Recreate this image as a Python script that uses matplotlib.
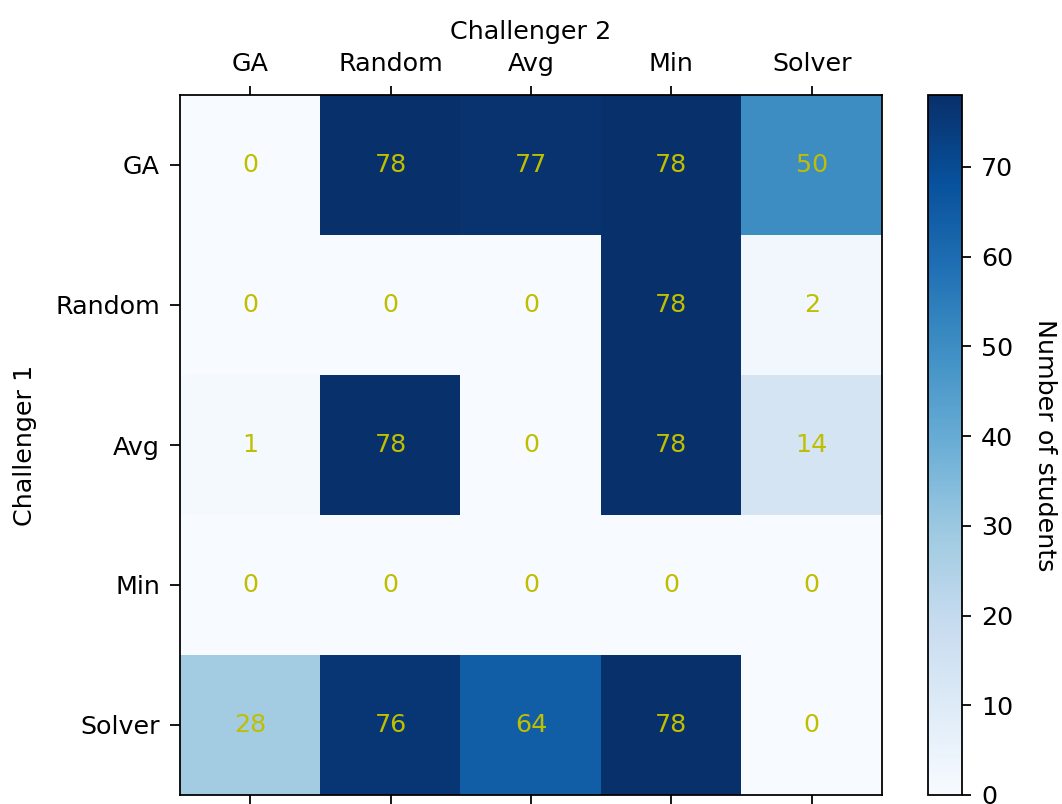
import matplotlib
matplotlib.use("Agg")
import matplotlib.pyplot as plt
import numpy as np

strategies = ["GA", "Random", "Avg", "Min", "Solver"]
row_ga = [0, 78, 77, 78, 50]
row_random = [0, 0, 0, 78, 2]
row_avg = [1, 78, 0, 78, 14]
row_min = [0, 0, 0, 0, 0]
row_solver = [28, 76, 64, 78, 0]

wins = np.array([row_ga, row_random, row_avg, row_min, row_solver])

plt.rcParams["font.size"] = 11.4

fig = plt.figure(figsize=(1062 / 160, 804 / 160), dpi=160)
ax = fig.add_axes([180 / 1062, 1 - 795 / 804, 702 / 1062, 700 / 804])
cax = fig.add_axes([928 / 1062, 1 - 795 / 804, 34 / 1062, 700 / 804])

im = ax.imshow(wins, cmap="Blues", aspect="auto")

ax.set_xticks(range(len(strategies)))
ax.set_yticks(range(len(strategies)))
ax.set_xticklabels(strategies)
ax.set_yticklabels(strategies)
ax.tick_params(axis="x", top=True, labeltop=True, bottom=True, labelbottom=False,
               length=4, pad=4.5)
ax.tick_params(axis="y", length=4.5, pad=4.5)
ax.xaxis.set_label_position("top")
ax.set_xlabel("Challenger 2", labelpad=6)
ax.set_ylabel("Challenger 1", labelpad=8)

for i in range(wins.shape[0]):
    for j in range(wins.shape[1]):
        ax.text(j, i, str(wins[i, j]), ha="center", va="center", color="y")

cbar = fig.colorbar(im, cax=cax)
cbar.ax.tick_params(length=4, pad=4.5)
cbar.set_label("Number of students", rotation=270, labelpad=20)

fig.savefig("out.png", dpi=160)
